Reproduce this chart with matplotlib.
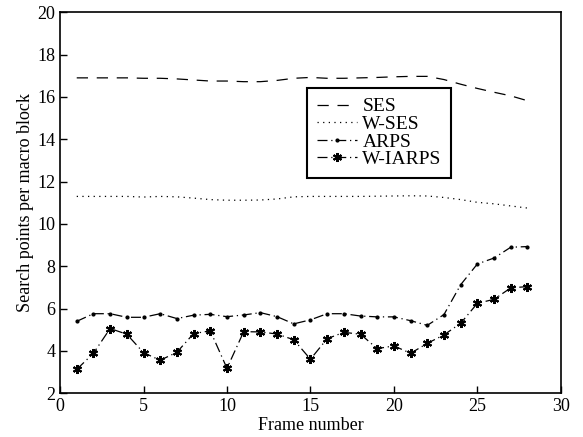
import matplotlib
matplotlib.use('Agg')
import matplotlib.pyplot as plt
import numpy as np

plt.rcParams['font.family'] = ['Liberation Serif', 'DejaVu Serif']
plt.rcParams['mathtext.fontset'] = 'stix'

frames = list(range(1, 29))

ses = [16.9, 16.9, 16.9, 16.9, 16.88, 16.88, 16.85, 16.8, 16.75, 16.75,
       16.72, 16.72, 16.78, 16.88, 16.92, 16.88, 16.88, 16.9, 16.92, 16.95,
       16.97, 16.97, 16.82, 16.6, 16.4, 16.22, 16.05, 15.82]
w_ses = [11.3, 11.3, 11.3, 11.3, 11.27, 11.3, 11.28, 11.22, 11.15, 11.12,
         11.12, 11.13, 11.18, 11.28, 11.3, 11.3, 11.3, 11.3, 11.31, 11.32,
         11.33, 11.32, 11.25, 11.15, 11.02, 10.95, 10.85, 10.75]
arps = [5.40, 5.76, 5.76, 5.59, 5.59, 5.76, 5.53, 5.69, 5.73, 5.62,
        5.70, 5.81, 5.62, 5.28, 5.47, 5.76, 5.76, 5.65, 5.61, 5.61,
        5.43, 5.21, 5.72, 7.13, 8.11, 8.39, 8.90, 8.93]
w_iarps = [3.13, 3.89, 5.06, 4.79, 3.92, 3.56, 3.94, 4.82, 4.95, 3.18,
           4.91, 4.90, 4.80, 4.53, 3.61, 4.58, 4.88, 4.79, 4.11, 4.24,
           3.89, 4.36, 4.76, 5.31, 6.25, 6.44, 6.98, 7.04]

fig = plt.figure(figsize=(5.83, 4.37), dpi=100)
ax = fig.add_axes([0.103, 0.100, 0.859, 0.872])

ax.plot(frames, ses, color='k', lw=0.9, linestyle=(0, (9, 7)), label='SES')
ax.plot(frames, w_ses, color='k', lw=0.9, linestyle=(0, (1, 3.5)), label='W-SES')
ax.plot(frames, arps, color='k', lw=0.9, linestyle=(0, (8, 3, 1, 3)),
        marker='.', markersize=4, label='ARPS')
ax.plot(frames, w_iarps, color='k', lw=0.9, linestyle=(0, (8, 3, 1, 3)),
        marker=(6, 2, 0), markersize=6.5, markeredgewidth=1.5, label='W-IARPS')

ax.set_xlim(0, 30)
ax.set_ylim(2, 20)
ax.set_xticks(range(0, 31, 5))
ax.set_yticks(range(2, 21, 2))
ax.tick_params(direction='in', length=5, width=1, labelsize=13,
               top=False, right=False)
for s in ax.spines.values():
    s.set_linewidth(1.2)

ax.set_xlabel('Frame number', fontsize=13, labelpad=1)
ax.set_ylabel('Search points per macro block', fontsize=13, labelpad=2)

leg = ax.legend(loc='upper left', bbox_to_anchor=(0.493, 0.801), fontsize=14,
                frameon=True, fancybox=False, edgecolor='k', framealpha=1,
                handlelength=2.1, handletextpad=0.25, labelspacing=0.0,
                borderpad=0.5, borderaxespad=0)
leg.get_frame().set_linewidth(1.5)

fig.savefig('out.png', dpi=100)
